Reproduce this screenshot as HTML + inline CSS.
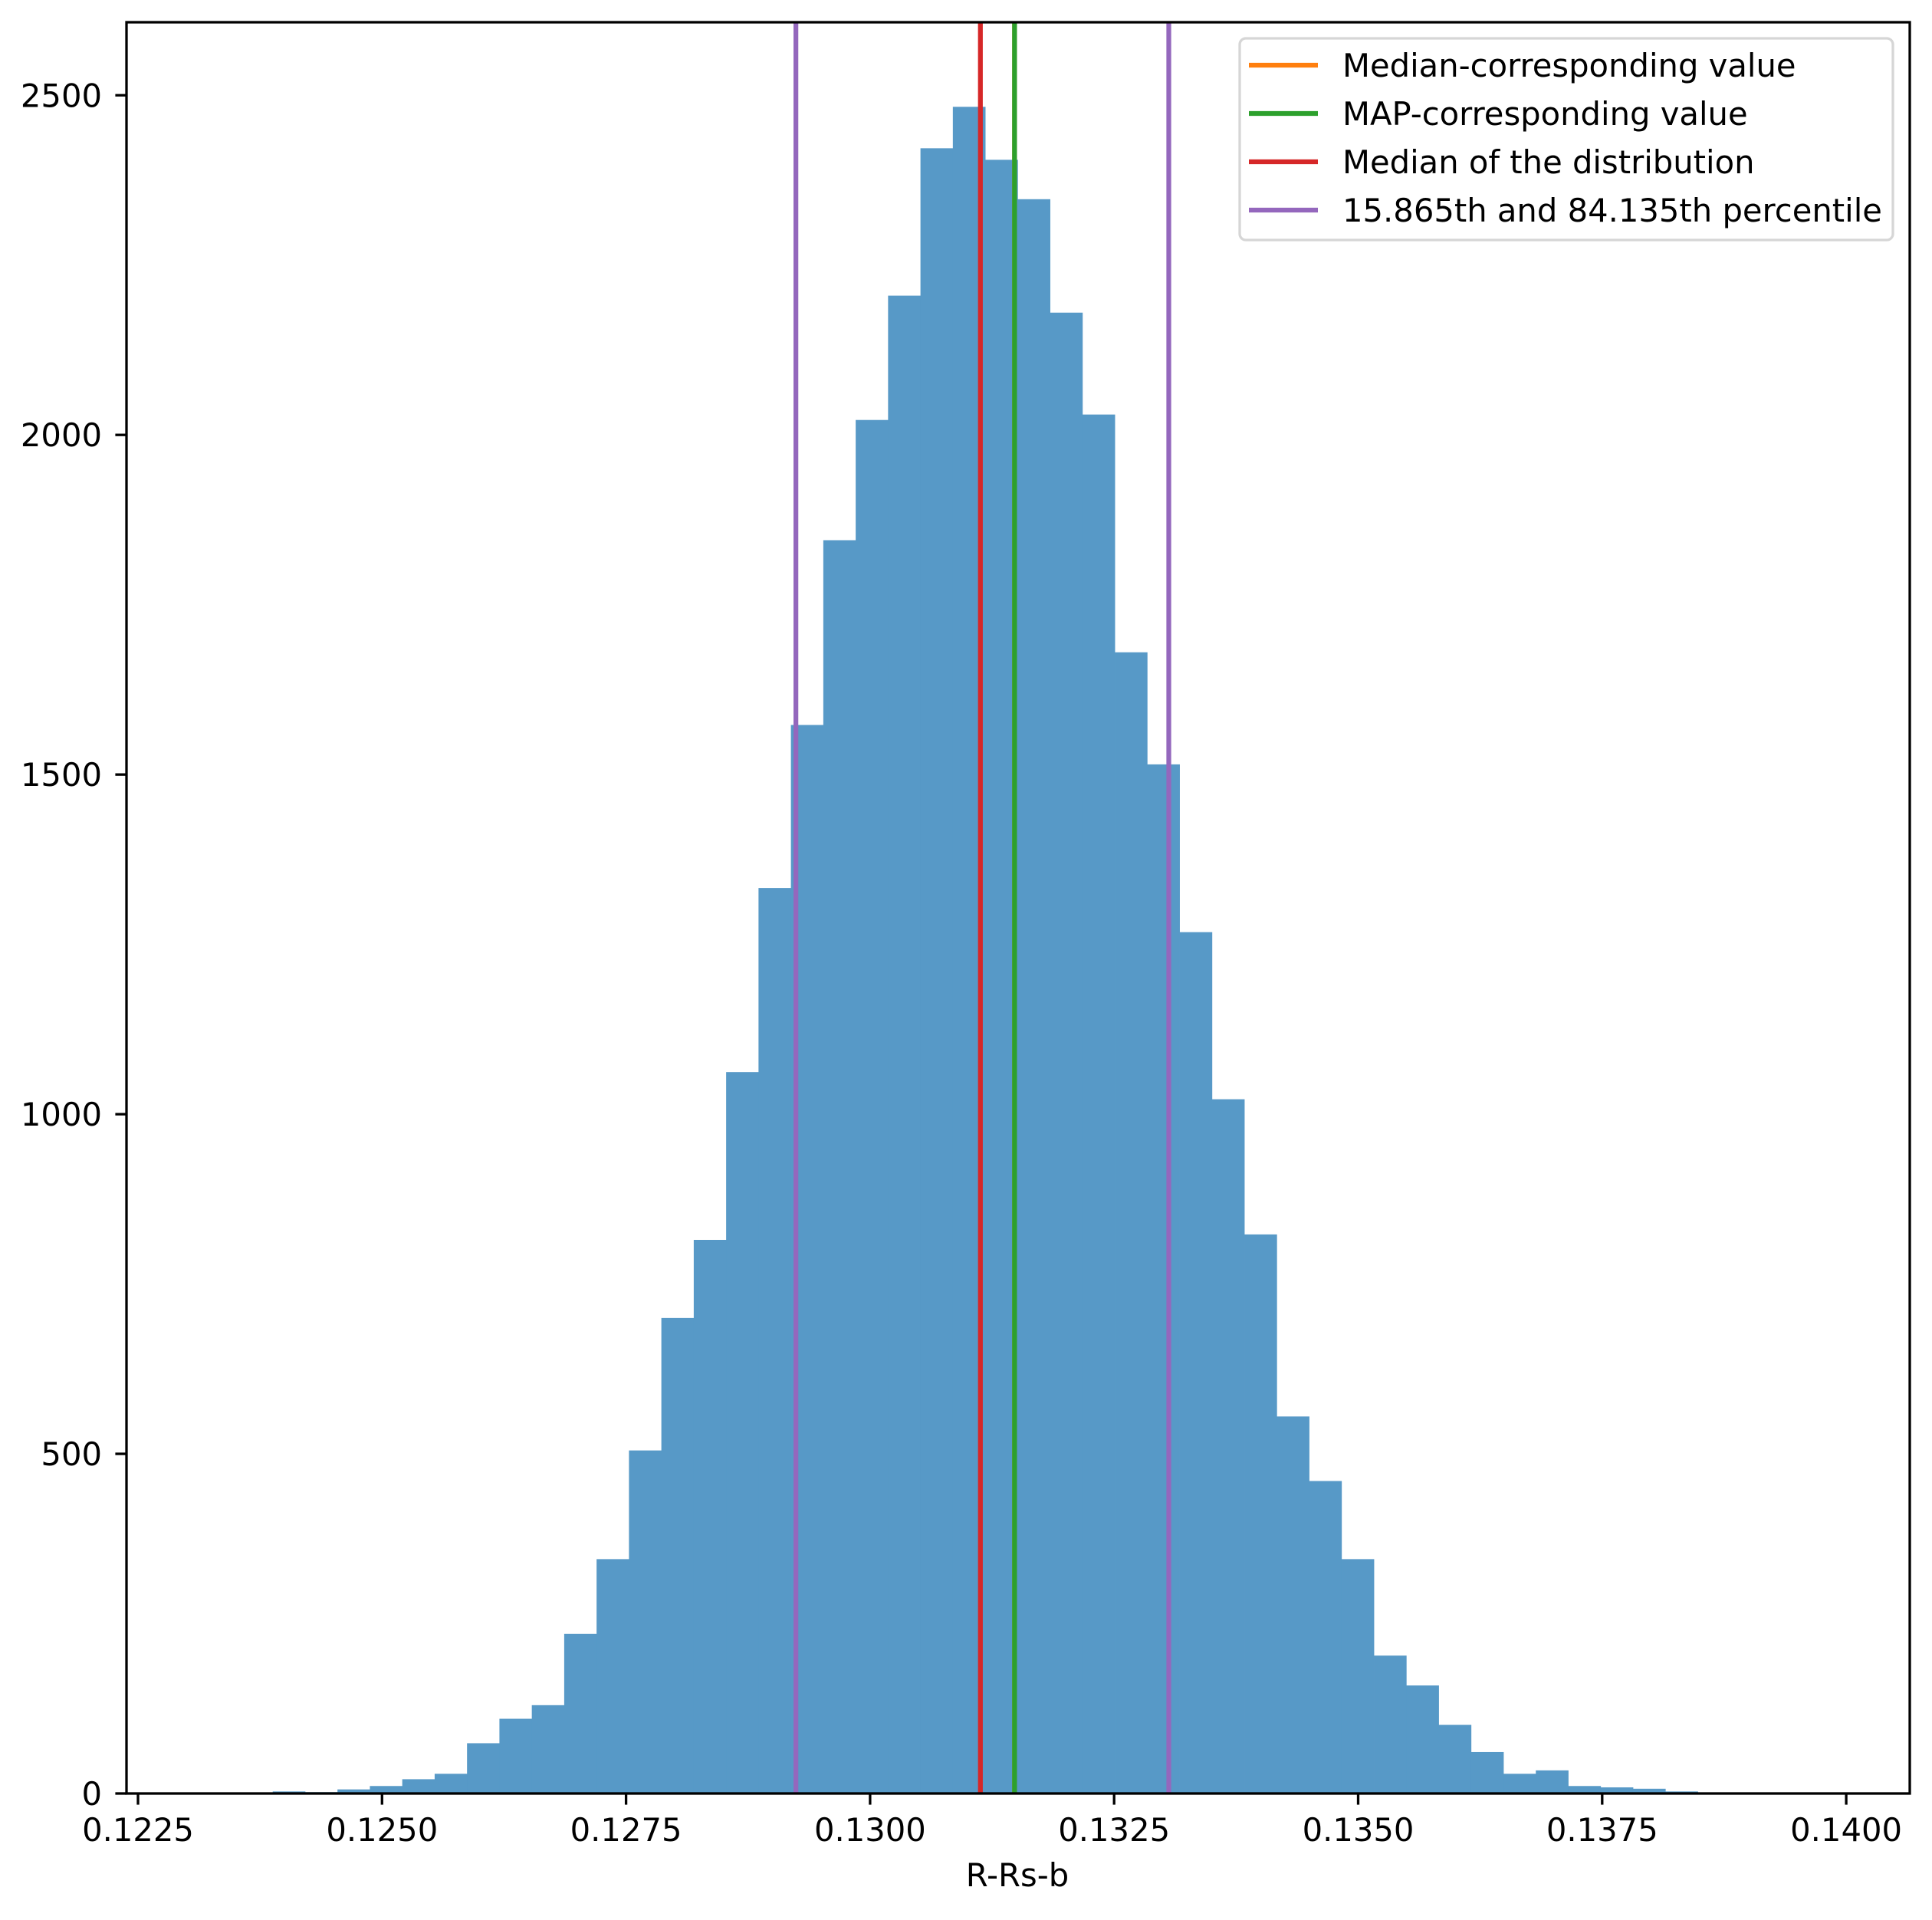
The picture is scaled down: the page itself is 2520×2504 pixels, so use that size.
<!DOCTYPE html>
<html><head><meta charset="utf-8"><style>
html,body{margin:0;padding:0;background:#fff;}
svg text{font-family:"DejaVu Sans","Liberation Sans",sans-serif;fill:#000;}
</style></head><body>
<svg id="chart" width="2520" height="2499" viewBox="0 0 2520 2499" xmlns="http://www.w3.org/2000/svg">
<rect width="2520" height="2499" fill="#fff"/>
<g id="bars"></g>
<g id="vlines"></g>
<g id="axes"></g>
<g id="legend"></g>
</svg>
<script>
const binStart = 0.12388;
const binWidth = 0.0003318;
const counts = [3,2,6,11,21,29,74,110,130,235,345,505,700,815,1062,1333,1573,1845,2022,2205,2422,2483,2405,2347,2180,2030,1680,1515,1268,1022,823,555,460,345,203,159,101,61,29,34,11,9,7,3];
const xTicks = [0.1225,0.1250,0.1275,0.1300,0.1325,0.1350,0.1375,0.1400];
const xTickLabels = ["0.1225","0.1250","0.1275","0.1300","0.1325","0.1350","0.1375","0.1400"];
const yTicks = [0,500,1000,1500,2000,2500];
const lineNames = ["Median-corresponding value","MAP-corresponding value","Median of the distribution","15.865th and 84.135th percentile"];
const medianCorr = [0.13148];
const mapCorr = [0.13148];
const medianDist = [0.13113];
const percentiles = [0.12924,0.13306];

const NS="http://www.w3.org/2000/svg";
const L=165,R=2491,T=29,B=2339;
function xs(v){return 180+(v-0.1225)/0.0025*318.3;}
function ys(c){return B-c*0.8859;}
function mk(tag,attrs,parent){const e=document.createElementNS(NS,tag);for(const k in attrs)e.setAttribute(k,attrs[k]);parent.appendChild(e);return e;}

const gb=document.getElementById('bars');
counts.forEach((c,i)=>{
  const x0=xs(binStart+i*binWidth),x1=xs(binStart+(i+1)*binWidth);
  const r=mk('rect',{x:x0,y:ys(c),width:x1-x0+0.4,height:B-ys(c),fill:'#5799c7'},gb);
  
  
});

const gv=document.getElementById('vlines');
const colors=['#ff7f0e','#2ca02c','#d62728','#9467bd'];
[medianCorr,mapCorr,medianDist,percentiles].forEach((arr,k)=>{
  arr.forEach(v=>{
    const l=mk('line',{x1:xs(v),x2:xs(v),y1:T,y2:B,stroke:colors[k],'stroke-width':6.25},gv);
    
    
  });
});

const ga=document.getElementById('axes');
const frame=mk('rect',{x:L,y:T,width:R-L,height:B-T,fill:'none',stroke:'#000','stroke-width':3.3},ga);


xTicks.forEach((v,i)=>{
  const x=xs(v);
  const t=mk('line',{x1:x,x2:x,y1:B,y2:B+14.6,stroke:'#000','stroke-width':3.3},ga);
  
  
  const tx=mk('text',{x:x,y:2401,'font-size':41.7,'text-anchor':'middle'},ga);
  tx.textContent=xTickLabels[i];
  
  
});
yTicks.forEach(v=>{
  const y=ys(v);
  const t=mk('line',{x1:L-14.6,x2:L,y1:y,y2:y,stroke:'#000','stroke-width':3.3},ga);
  
  
  const tx=mk('text',{x:133,y:y+15,'font-size':41.7,'text-anchor':'end'},ga);
  tx.textContent=String(v);
  
  
});
const xl=mk('text',{x:1327,y:2460,'font-size':41.7,'text-anchor':'middle'},ga);
xl.textContent='R-Rs-b';



const gl=document.getElementById('legend');
const box=mk('rect',{x:1617,y:50,width:852,height:263,rx:8,fill:'#fff','fill-opacity':0.8,stroke:'#d6d6d6','stroke-width':3.3},gl);


lineNames.forEach((n,i)=>{
  const y=85+i*63;
  const l=mk('line',{x1:1629,x2:1719,y1:y,y2:y,stroke:colors[i],'stroke-width':6.25},gl);
  
  
  const t=mk('text',{x:1751,y:y+15,'font-size':41.7},gl);
  t.textContent=n;
  
  
});
</script>
</body></html>
